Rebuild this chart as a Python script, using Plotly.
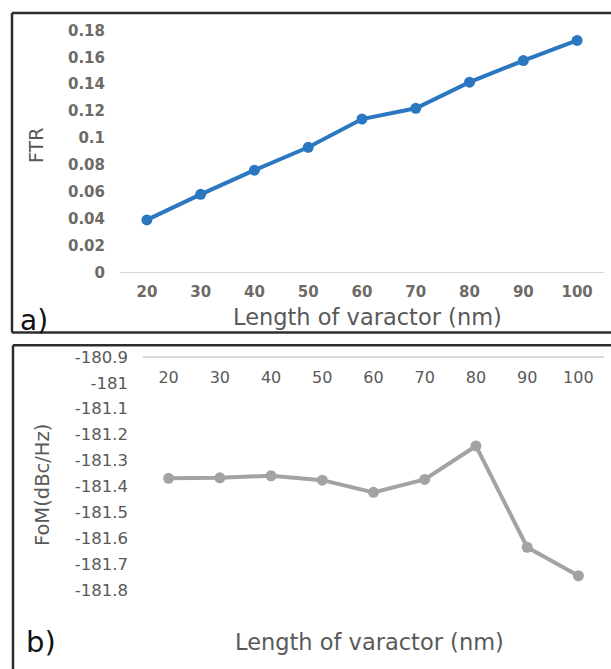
import plotly.graph_objects as go

W, H = 611, 669

# ---- data ----
lengths = [20, 30, 40, 50, 60, 70, 80, 90, 100]
ftr = [0.039, 0.058, 0.076, 0.093, 0.114, 0.122, 0.1415, 0.1575, 0.1725]
fom = [-181.369, -181.367, -181.359, -181.376, -181.423, -181.373, -181.244, -181.635, -181.745]

ftr_tickvals = [0, 0.02, 0.04, 0.06, 0.08, 0.1, 0.12, 0.14, 0.16, 0.18]
ftr_ticktext = ["0", "0.02", "0.04", "0.06", "0.08", "0.1", "0.12", "0.14", "0.16", "0.18"]
fom_tickvals = [-180.9, -181.0, -181.1, -181.2, -181.3, -181.4, -181.5, -181.6, -181.7, -181.8]
fom_ticktext = ["-180.9", "-181", "-181.1", "-181.2", "-181.3", "-181.4", "-181.5", "-181.6", "-181.7", "-181.8"]
x_ticktext = [str(v) for v in lengths]

FONT = "DejaVu Sans"


def px(x):
    return x / W


def py(y):
    return 1 - y / H


fig = go.Figure()
fig.add_trace(go.Scatter(
    x=lengths, y=ftr, mode="lines+markers", xaxis="x", yaxis="y",
    line=dict(color="#2b78c0", width=4),
    marker=dict(color="#2b78c0", size=11),
    showlegend=False, hoverinfo="skip"))
fig.add_trace(go.Scatter(
    x=lengths, y=fom, mode="lines+markers", xaxis="x2", yaxis="y2",
    line=dict(color="#a3a3a3", width=4),
    marker=dict(color="#a3a3a3", size=11),
    showlegend=False, hoverinfo="skip"))

fig.update_layout(
    width=W, height=H,
    margin=dict(l=0, r=0, t=0, b=0),
    paper_bgcolor="white", plot_bgcolor="white",
    font=dict(family=FONT, color="#595959"),
    xaxis=dict(domain=[px(120), px(604)], anchor="y", range=[15, 105],
               tickvals=lengths, ticktext=x_ticktext,
               showline=True, linecolor="#d9d9d9", linewidth=1,
               showgrid=False, zeroline=False, ticks="",
               tickfont=dict(family=FONT, size=15, color="#6e6a66", weight="bold"),
               ticklabelstandoff=6),
    yaxis=dict(domain=[py(271), py(22)], anchor="x", range=[0, 0.18],
               tickvals=ftr_tickvals, ticktext=ftr_ticktext,
               showgrid=False, zeroline=False, showline=False, ticks="",
               tickfont=dict(family=FONT, size=15, color="#6e6a66", weight="bold"),
               ticklabelstandoff=14),
    xaxis2=dict(domain=[px(143), px(604)], anchor="free", position=py(358), side="bottom",
                range=[15, 105], tickvals=lengths, ticktext=x_ticktext,
                showline=True, linecolor="#d9d9d9", linewidth=1.5,
                showgrid=False, zeroline=False, ticks="",
                tickfont=dict(family=FONT, size=16, color="#595959"),
                ticklabelstandoff=6),
    yaxis2=dict(domain=[py(598), py(358)], anchor="x2", range=[-181.8, -180.9],
                tickvals=fom_tickvals, ticktext=fom_ticktext,
                showgrid=False, zeroline=False, showline=False, ticks="",
                tickfont=dict(family=FONT, size=16.5, color="#595959"),
                ticklabelstandoff=14),
)

# panel borders
border = dict(color="#2e2e2e", width=2.5)
fig.add_shape(type="line", xref="paper", yref="paper", x0=px(12), x1=1.02, y0=py(4), y1=py(4), line=border)
fig.add_shape(type="line", xref="paper", yref="paper", x0=px(12), x1=px(12), y0=py(4), y1=py(333), line=border)
fig.add_shape(type="line", xref="paper", yref="paper", x0=px(12), x1=1.02, y0=py(333), y1=py(333), line=border)
fig.add_shape(type="line", xref="paper", yref="paper", x0=px(13), x1=1.02, y0=py(346), y1=py(346), line=border)
fig.add_shape(type="line", xref="paper", yref="paper", x0=px(13), x1=px(13), y0=py(346), y1=-0.02, line=border)

ann = []
ann.append(dict(text="FTR", x=px(36), y=py(141), xref="paper", yref="paper", textangle=-90,
                showarrow=False, font=dict(family=FONT, size=19, color="#595959"),
                xanchor="center", yanchor="middle"))
ann.append(dict(text="Length of varactor (nm)", x=px(367), y=py(317), xref="paper", yref="paper",
                showarrow=False, font=dict(family=FONT, size=22.5, color="#595959"),
                xanchor="center", yanchor="middle"))
ann.append(dict(text="a)", x=px(18), y=py(321), xref="paper", yref="paper",
                showarrow=False, font=dict(family=FONT, size=28, color="#111111"),
                xanchor="left", yanchor="middle"))
ann.append(dict(text="FoM(dBc/Hz)", x=px(42), y=py(490), xref="paper", yref="paper", textangle=-90,
                showarrow=False, font=dict(family=FONT, size=19.5, color="#595959"),
                xanchor="center", yanchor="middle"))
ann.append(dict(text="Length of varactor (nm)", x=px(369), y=py(652), xref="paper", yref="paper",
                showarrow=False, font=dict(family=FONT, size=22.5, color="#595959"),
                xanchor="center", yanchor="middle"))
ann.append(dict(text="b)", x=px(24), y=py(651), xref="paper", yref="paper",
                showarrow=False, font=dict(family=FONT, size=29, color="#111111"),
                xanchor="left", yanchor="middle"))
fig.update_layout(annotations=ann)

fig.write_html("out.html")
